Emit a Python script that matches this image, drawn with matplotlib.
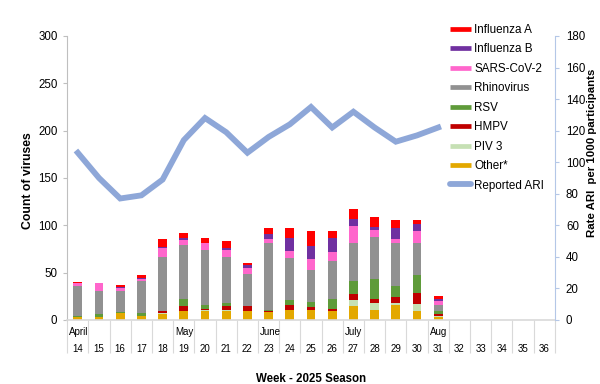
import matplotlib
matplotlib.use('Agg')
import matplotlib.pyplot as plt
from matplotlib.lines import Line2D
import numpy as np

plt.rcParams['font.family'] = ['Liberation Sans', 'DejaVu Sans']

# Semanas do eixo x (14 a 36) e semanas com dados
semanas = list(range(14, 37))
semanas_dados = list(range(14, 32))

# Contagem de vírus por semana (empilhado de baixo para cima)
other = [3, 3, 7, 4, 6, 10, 10, 10, 10, 8, 11, 11, 9, 15, 11, 16, 10, 3]
piv3 = [0, 0, 0, 0, 1, 0, 1, 1, 0, 0, 0, 0, 0, 6, 7, 2, 7, 1]
hmpv = [0, 0, 0, 0, 3, 5, 1, 4, 5, 1, 5, 3, 3, 6, 4, 6, 11, 2]
rsv = [1, 3, 1, 3, 0, 7, 4, 3, 0, 2, 5, 5, 10, 14, 21, 12, 19, 3]
rhino = [32, 25, 23, 34, 57, 57, 58, 49, 34, 70, 44, 34, 40, 40, 45, 45, 34, 7]
sars = [3, 8, 3, 2, 9, 6, 7, 7, 6, 5, 8, 11, 10, 18, 7, 5, 13, 4]
flub = [0, 0, 1, 1, 1, 2, 0, 2, 3, 5, 14, 14, 15, 8, 3, 11, 7, 2]
flua = [1, 0, 2, 3, 9, 5, 6, 7, 2, 6, 10, 16, 7, 10, 11, 9, 5, 3]

# Taxa de ARI reportada por 1000 participantes
ari = [106, 90, 77, 79, 89, 114, 128, 119, 106, 116, 124, 135, 122, 132, 122, 113, 117, 122]

meses = {14: 'April', 19: 'May', 23: 'June', 27: 'July', 31: 'Aug'}

series = [
    ('Other*', other, '#E3A800'),
    ('PIV 3', piv3, '#C6E0B4'),
    ('HMPV', hmpv, '#C00000'),
    ('RSV', rsv, '#5F9B3A'),
    ('Rhinovirus', rhino, '#919191'),
    ('SARS-CoV-2', sars, '#FF66CC'),
    ('Influenza B', flub, '#7030A0'),
    ('Influenza A', flua, '#FF0000'),
]
cor_ari = '#8EA7D8'

fig = plt.figure(figsize=(6, 3.84), dpi=100)
ax = fig.add_axes([0.112, 0.1667, 0.8127, 0.7396])

base = np.zeros(len(semanas_dados))
for nome, valores, cor in series:
    ax.bar(semanas_dados, valores, bottom=base, width=0.41, color=cor, zorder=2)
    base = base + np.array(valores)

ax.set_xlim(13.5, 36.5)
ax.set_ylim(0, 300)
ax.set_yticks(range(0, 301, 50))
ax.set_xticks(semanas)
ax.set_xticklabels([str(s) for s in semanas], fontsize=7)
ax.tick_params(axis='x', which='major', length=0, pad=17.5)
ax.set_xticks(np.arange(13.5, 37, 1), minor=True)
ax.tick_params(axis='x', which='minor', length=24, color='#D9D9D9', width=0.8)
ax.tick_params(axis='y', labelsize=8.3, length=3, color='#BFBFBF', pad=4)

for s, m in meses.items():
    ax.annotate(m, xy=(s - 0.5, 0), xycoords=('data', 'axes fraction'),
                xytext=(1.5, -8.5), textcoords='offset points',
                ha='left', va='center', fontsize=7)

ax.spines['top'].set_visible(False)
ax.spines['right'].set_visible(False)
ax.spines['left'].set_color('#BFBFBF')
ax.spines['bottom'].set_color('#D9D9D9')
ax.spines['bottom'].set_linewidth(1.2)

ax.set_ylabel('Count of viruses', fontsize=8.8, fontweight='bold')
ax.yaxis.set_label_coords(-0.068, 0.49)
ax.set_xlabel('Week - 2025 Season', fontsize=8.3, fontweight='bold')
ax.xaxis.set_label_coords(0.5, -0.185)

ax2 = ax.twinx()
ax2.plot(semanas_dados, ari, color=cor_ari, linewidth=4.2, solid_joinstyle='miter', zorder=3)
ax2.set_ylim(0, 180)
ax2.set_yticks(range(0, 181, 20))
ax2.tick_params(axis='y', labelsize=8.3, length=3, color='#B4C7E7', pad=5)
for lado in ['top', 'left', 'bottom']:
    ax2.spines[lado].set_visible(False)
ax2.spines['right'].set_color('#B4C7E7')
ax2.set_ylabel('Rate ARI  per 1000 participants', fontsize=8.2, fontweight='bold')
ax2.yaxis.set_label_coords(1.066, 0.59)

# Legenda
handles = []
for nome, valores, cor in reversed(series):
    handles.append(Line2D([0], [0], color=cor, linewidth=3.4, solid_capstyle='butt', label=nome))
handles.append(Line2D([0], [0], color=cor_ari, linewidth=4.2, solid_capstyle='round', label='Reported ARI'))
fig.legend(handles=handles, loc='upper left', bbox_to_anchor=(0.75, 0.938),
           frameon=False, fontsize=8.4, handlelength=1.8, handletextpad=0.26,
           labelspacing=0.64, borderpad=0, borderaxespad=0)

plt.savefig('out.png', dpi=100)
